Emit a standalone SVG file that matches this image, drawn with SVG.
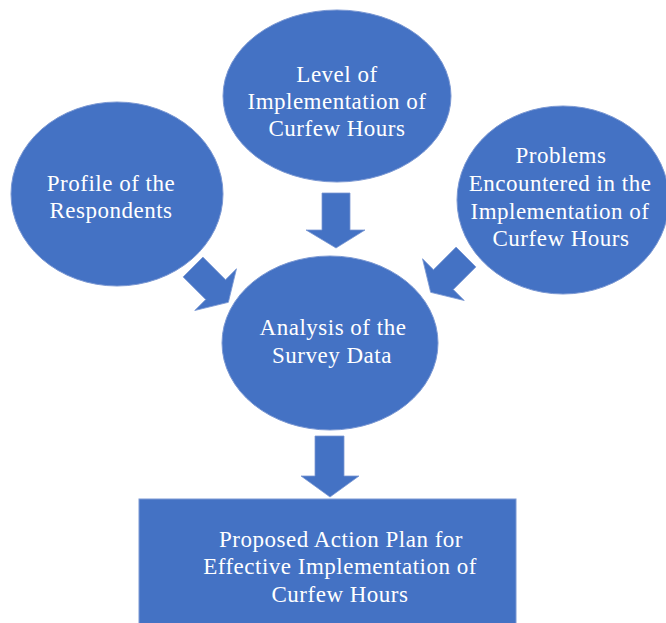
<svg xmlns="http://www.w3.org/2000/svg" width="666" height="623" viewBox="0 0 666 623">
  <style>
    .shape { fill: #4472C4; stroke: #7b98d3; stroke-width: 1; }
    .arrow { fill: #4472C4; stroke: #7b98d3; stroke-width: 0.8; }
    .lbl { fill: #ffffff; font-family: "Liberation Serif", "Times New Roman", serif; font-size: 23px; letter-spacing: 0.5px; text-anchor: middle; }
  </style>
  <rect x="0" y="0" width="666" height="623" fill="#ffffff"/>

  <g id="connectors">
    <polygon class="arrow" points="322,193 350,193 350,230 365,230 336,248 306,230 322,230"/>
    <polygon class="arrow" transform="translate(193,267) rotate(45)" points="0,-14 32,-14 32,-29.5 50,0 32,29.5 32,14 0,14"/>
    <polygon class="arrow" transform="translate(466,257) rotate(135)" points="0,-14 32,-14 32,-29.5 50,0 32,29.5 32,14 0,14"/>
    <polygon class="arrow" points="315,436 344,436 344,476 359,476 330,497 301,476 315,476"/>
  </g>

  <g id="node-level">
    <ellipse class="shape" cx="337" cy="96" rx="114" ry="86"/>
    <text class="lbl" x="337" y="82">Level of</text>
    <text class="lbl" x="337" y="109">Implementation of</text>
    <text class="lbl" x="337" y="136">Curfew Hours</text>
  </g>

  <g id="node-profile">
    <ellipse class="shape" cx="117" cy="194" rx="106" ry="92"/>
    <text class="lbl" x="111" y="191">Profile of the</text>
    <text class="lbl" x="111" y="218">Respondents</text>
  </g>

  <g id="node-problems">
    <ellipse class="shape" cx="563" cy="200" rx="106" ry="94"/>
    <text class="lbl" x="561" y="163">Problems</text>
    <text class="lbl" x="560" y="191">Encountered in the</text>
    <text class="lbl" x="560" y="219">Implementation of</text>
    <text class="lbl" x="561" y="246">Curfew Hours</text>
  </g>

  <g id="node-analysis">
    <ellipse class="shape" cx="330" cy="343" rx="108" ry="87"/>
    <text class="lbl" x="333" y="335">Analysis of the</text>
    <text class="lbl" x="332" y="363">Survey Data</text>
  </g>

  <g id="node-plan">
    <rect class="shape" x="139" y="499" width="377" height="130"/>
    <text class="lbl" x="341" y="547">Proposed Action Plan for</text>
    <text class="lbl" x="340" y="574">Effective Implementation of</text>
    <text class="lbl" x="340" y="602">Curfew Hours</text>
  </g>
</svg>
